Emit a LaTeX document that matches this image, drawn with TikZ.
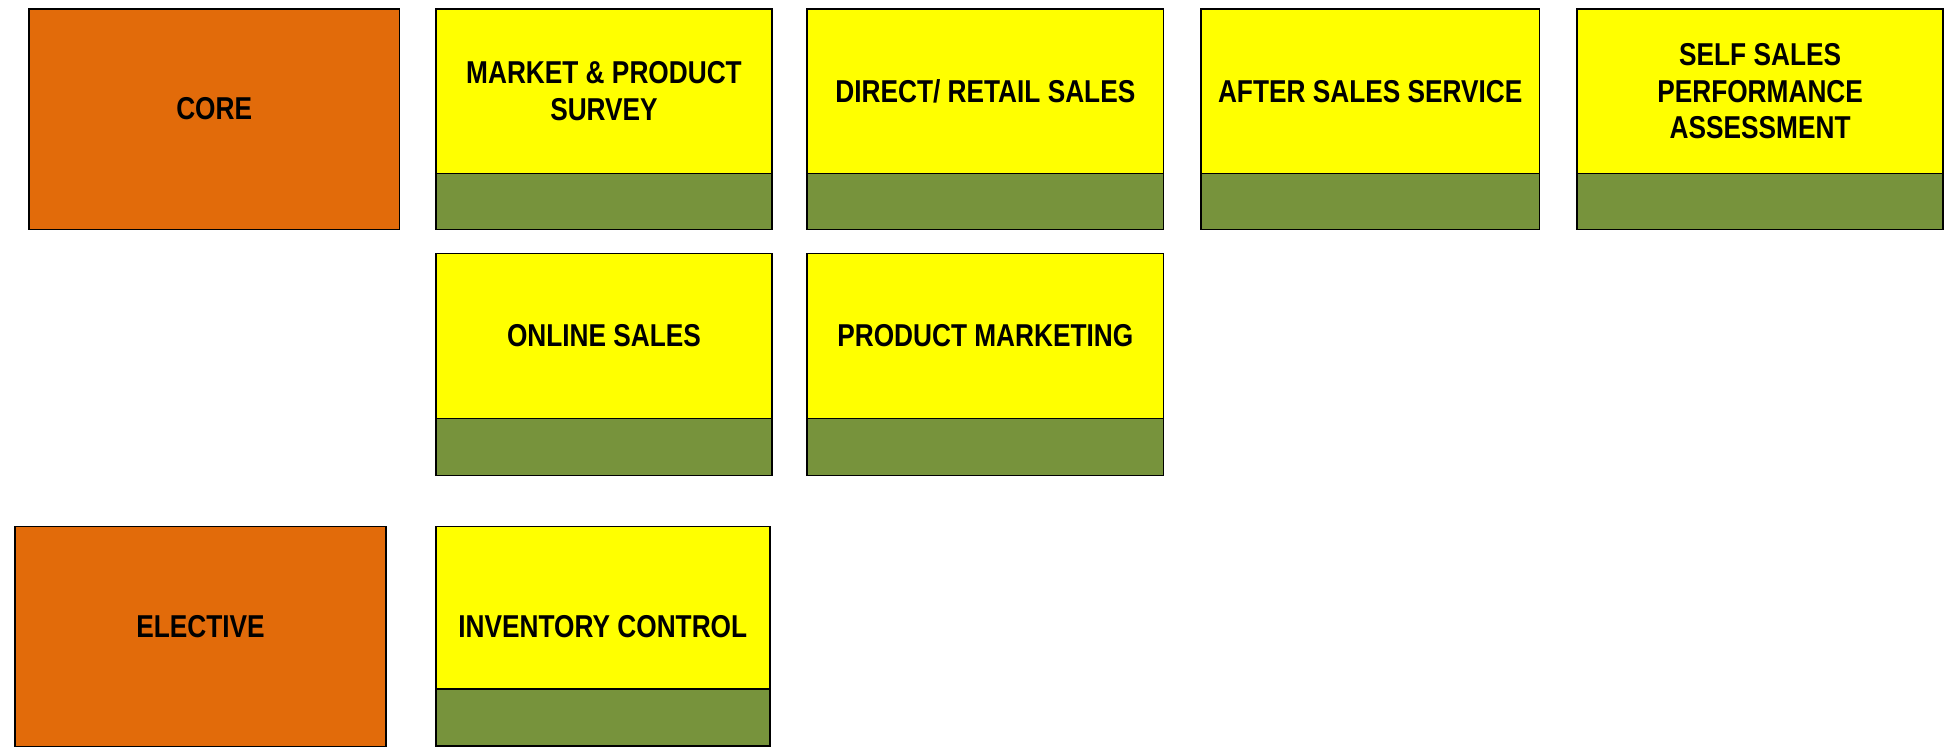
\documentclass[tikz,border=0pt]{standalone}
\usepackage{fontspec}
\setmainfont{Liberation Sans}[FakeStretch=0.83]
\usepackage{tikz}
\usetikzlibrary{positioning}
\definecolor{coreorange}{RGB}{226,107,10}
\definecolor{unityellow}{RGB}{255,255,0}
\definecolor{unitgreen}{RGB}{119,147,60}
\tikzset{
  frame/.style={draw=black,line width=0.9pt,inner sep=0pt,outer sep=0pt},
  groupbox/.style={frame,fill=coreorange},
  unitbox/.style={frame,fill=unityellow,font=\fontsize{18}{20.8}\selectfont\bfseries,align=center},
  bandbox/.style={frame,fill=unitgreen},
  grouptext/.style={inner sep=0pt,font=\fontsize{18}{20.8}\selectfont\bfseries}
}

\begin{document}
\begin{tikzpicture}[x=0.02cm,y=-0.02cm]
       \fill[white] (0,0) rectangle (1947,750);
       \useasboundingbox (0,0) rectangle (1947,750);
       % core
       \node[groupbox,minimum width=7.42cm,minimum height=4.42cm] (core) at (214.2,119.2) {};
       \node[grouptext] (coretext) at (214.2,109) {CORE};
       % first row
       \node[unitbox,minimum width=6.73cm,minimum height=3.30cm] (survey) at (604,91.2) {MARKET \& PRODUCT\\SURVEY};
       \node[bandbox,minimum width=6.73cm,minimum height=1.12cm,below=0pt of survey] (surveyband) {};
       \node[unitbox,minimum width=7.13cm,minimum height=3.30cm] (direct) at (985.3,91.2) {DIRECT/ RETAIL SALES};
       \node[bandbox,minimum width=7.13cm,minimum height=1.12cm,below=0pt of direct] (directband) {};
       \node[unitbox,minimum width=6.78cm,minimum height=3.30cm] (after) at (1370.2,91.2) {AFTER SALES SERVICE};
       \node[bandbox,minimum width=6.78cm,minimum height=1.12cm,below=0pt of after] (afterband) {};
       \node[unitbox,minimum width=7.32cm,minimum height=3.30cm] (self) at (1760.1,91.2) {SELF SALES\\PERFORMANCE\\ASSESSMENT};
       \node[bandbox,minimum width=7.32cm,minimum height=1.12cm,below=0pt of self] (selfband) {};
       % second row
       \node[unitbox,minimum width=6.73cm,minimum height=3.30cm] (online) at (604,335.9) {ONLINE SALES};
       \node[bandbox,minimum width=6.73cm,minimum height=1.14cm,below=0pt of online] (onlineband) {};
       \node[unitbox,minimum width=7.13cm,minimum height=3.30cm] (marketing) at (985.3,335.9) {PRODUCT MARKETING};
       \node[bandbox,minimum width=7.13cm,minimum height=1.14cm,below=0pt of marketing] (marketingband) {};
       % elective
       \node[groupbox,minimum width=7.43cm,minimum height=4.40cm] (elective) at (200.5,636.4) {};
       \node[grouptext] (electivetext) at (200.5,627) {ELECTIVE};
       \node[unitbox,minimum width=6.68cm,minimum height=3.25cm] (inventory) at (602.8,607.8) {};
       \node[bandbox,minimum width=6.68cm,minimum height=1.14cm,below=0pt of inventory] (inventoryband) {};
       \node[grouptext] (inventorytext) at (602.8,627) {INVENTORY CONTROL};
\end{tikzpicture}
\end{document}
